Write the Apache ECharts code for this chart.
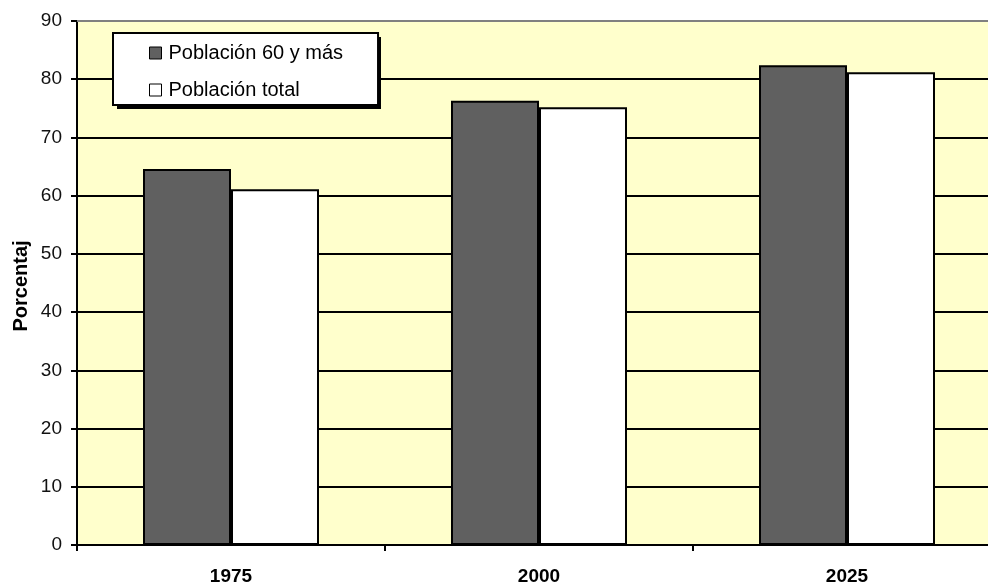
<!DOCTYPE html>
<html>
<head>
<meta charset="utf-8">
<script src="https://cdn.jsdelivr.net/npm/echarts@6/dist/echarts.min.js"></script>
<style>
html,body{margin:0;padding:0;background:#fff;}
#chart{width:988px;height:585px;}
</style>
</head>
<body>
<div id="chart"></div>
<script>
var categories = ['1975', '2000', '2025'];
var seriesNames = ['Población 60 y más', 'Población total'];
var pob60 = [64.6, 76.3, 82.4];
var pobTotal = [61.1, 75.2, 81.2];
var yTicks = [0, 10, 20, 30, 40, 50, 60, 70, 80, 90];
var yTitle = 'Porcentaj';

var chart = echarts.init(document.getElementById('chart'), null, {renderer: 'canvas'});
var font = 'Liberation Sans, Arial, sans-serif';
chart.setOption({
  animation: false,
  backgroundColor: '#ffffff',
  textStyle: {fontFamily: font},
  grid: {
    left: 77, top: 21, width: 924, height: 524,
    outerBoundsMode: 'none',
    containLabel: false,
    show: true, backgroundColor: '#FFFFCC', borderWidth: 0
  },
  legend: {
    orient: 'vertical',
    left: 113, top: 33,
    padding: [10, 35, 5, 36],
    itemWidth: 12, itemHeight: 12,
    itemGap: 17,
    z: 6,
    backgroundColor: '#ffffff',
    borderColor: '#000000', borderWidth: 2,
    textStyle: {fontSize: 20, color: '#000', fontFamily: font, padding: [0, 0, 0, 2]},
    data: [
      {name: seriesNames[0], icon: 'rect', itemStyle: {color: '#606060', borderColor: '#000', borderWidth: 1}},
      {name: seriesNames[1], icon: 'rect', itemStyle: {color: '#ffffff', borderColor: '#000', borderWidth: 1}}
    ]
  },
  xAxis: [{
    type: 'category',
    data: categories,
    position: 'bottom',
    axisLine: {show: true, lineStyle: {color: '#000', width: 2}},
    axisTick: {show: true, length: 6, lineStyle: {color: '#000', width: 2}},
    axisLabel: {fontSize: 19, fontWeight: 'bold', color: '#000', margin: 22, fontFamily: font},
    splitLine: {show: false}
  }, {
    type: 'category',
    data: categories,
    position: 'top',
    axisLine: {show: true, lineStyle: {color: '#808080', width: 2}},
    axisTick: {show: false},
    axisLabel: {show: false},
    splitLine: {show: false}
  }],
  yAxis: {
    type: 'value',
    min: yTicks[0], max: yTicks[yTicks.length - 1], interval: 10,
    axisLine: {show: true, lineStyle: {color: '#000', width: 2}},
    axisTick: {show: true, length: 6, lineStyle: {color: '#000', width: 2}},
    axisLabel: {fontSize: 19, color: '#111', margin: 15, fontFamily: font},
    splitLine: {show: true, lineStyle: {color: '#000', width: 2}}
  },
  graphic: [{
    type: 'rect',
    z: 5,
    shape: {x: 117, y: 37, width: 264, height: 72},
    style: {fill: '#000'}
  }, {
    type: 'text',
    z: 5,
    rotation: Math.PI / 2,
    x: 21, y: 286,
    style: {text: yTitle, font: 'bold 20px ' + font, fill: '#000', textAlign: 'center', textVerticalAlign: 'middle'}
  }],
  series: [{
    name: seriesNames[0],
    type: 'bar',
    data: pob60,
    barWidth: 88,
    barGap: '0%',
    itemStyle: {color: '#606060', borderColor: '#000', borderWidth: 2}
  }, {
    name: seriesNames[1],
    type: 'bar',
    data: pobTotal,
    barWidth: 88,
    barGap: '0%',
    itemStyle: {color: '#ffffff', borderColor: '#000', borderWidth: 2}
  }]
});
</script>
</body>
</html>
